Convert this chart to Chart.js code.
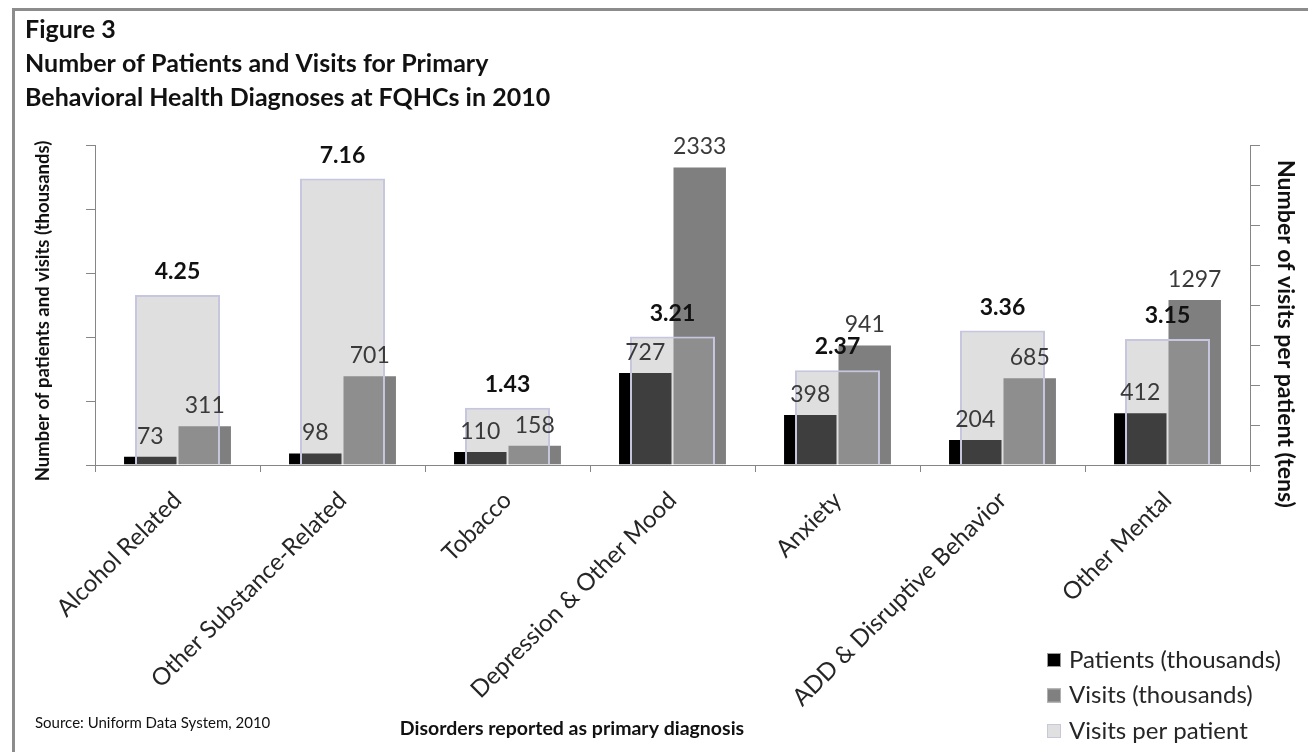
<!DOCTYPE html>
<html>
<head>
<meta charset="utf-8">
<script src="https://cdn.jsdelivr.net/npm/chart.js@4.4.1/dist/chart.umd.min.js"></script>
<style>
  html, body { margin: 0; padding: 0; background: #fff; }
  #wrap { width: 1308px; height: 752px; }
</style>
</head>
<body>
<div id="wrap"><canvas id="myChart" width="1308" height="752"></canvas></div>
<script>
var categories = ["Alcohol Related", "Other Substance-Related", "Tobacco", "Depression & Other Mood", "Anxiety", "ADD & Disruptive Behavior", "Other Mental"];
var patients = [73, 98, 110, 727, 398, 204, 412];
var visits = [311, 701, 158, 2333, 941, 685, 1297];
var visitsPerPatient = [4.25, 7.16, 1.43, 3.21, 2.37, 3.36, 3.15];
var seriesNames = ["Patients (thousands)", "Visits (thousands)", "Visits per patient"];
var leftMax = 2500, leftStep = 500;
var rightMax = 8, rightStep = 1;

var axisGray = "#868686";
var font = "Lato";
Chart.defaults.font.family = font;

// value labels above every bar
var barLabels = {
  id: "barLabels",
  afterDatasetsDraw: function (chart) {
    var ctx = chart.ctx;
    ctx.save();
    ctx.textAlign = "center";
    ctx.textBaseline = "bottom";
    chart.data.datasets.forEach(function (ds, i) {
      var meta = chart.getDatasetMeta(i);
      meta.data.forEach(function (bar, j) {
        var v = ds.data[j];
        if (ds.yAxisID === "y1") {
          ctx.font = "bold 23px " + font;
          ctx.fillStyle = "#111";
          ctx.fillText(v.toFixed(2), bar.x, bar.y - 12);
        } else {
          ctx.font = "23px " + font;
          ctx.fillStyle = "#3a3a3a";
          ctx.fillText(String(v), bar.x, bar.y - 8);
        }
      });
    });
    ctx.restore();
  }
};

// titles, axis titles, source note, legend and frame
var decorations = {
  id: "decorations",
  beforeDraw: function (chart) {
    var ctx = chart.ctx;
    ctx.save();
    ctx.strokeStyle = "#8c8c8c";
    ctx.lineWidth = 3;
    ctx.strokeRect(13.5, 9.5, 1400, 900);
    ctx.restore();
  },
  afterDraw: function (chart) {
    var ctx = chart.ctx;
    ctx.save();
    ctx.fillStyle = "#111";
    ctx.textBaseline = "middle";
    ctx.textAlign = "left";
    ctx.font = "bold 25px " + font;
    ctx.fillText("Figure 3", 25, 30);
    ctx.fillText("Number of Patients and Visits for Primary", 25, 64);
    ctx.fillText("Behavioral Health Diagnoses at FQHCs in 2010", 25, 98);

    ctx.font = "15px " + font;
    ctx.fillText("Source: Uniform Data System, 2010", 35, 723);

    ctx.textAlign = "center";
    ctx.font = "bold 19.5px " + font;
    ctx.fillText("Disorders reported as primary diagnosis", 572, 729);

    ctx.save();
    ctx.translate(43, 311);
    ctx.rotate(-Math.PI / 2);
    ctx.font = "bold 18.5px " + font;
    ctx.fillText("Number of patients and visits (thousands)", 0, 0);
    ctx.restore();

    ctx.save();
    ctx.translate(1285, 334);
    ctx.rotate(Math.PI / 2);
    ctx.font = "bold 23px " + font;
    ctx.fillText("Number of visits per patient (tens)", 0, 0);
    ctx.restore();

    // legend
    var fills = ["#000000", "#808080", "#e0e0e0"];
    var edges = ["#9a9a9a", "#b0b0b0", "#c8c8dc"];
    ctx.textAlign = "left";
    ctx.font = "24px " + font;
    seriesNames.forEach(function (name, i) {
      var y = 660 + i * 35.5;
      ctx.fillStyle = fills[i];
      ctx.fillRect(1047, y - 7, 14, 14);
      ctx.strokeStyle = edges[i];
      ctx.lineWidth = 1;
      ctx.strokeRect(1047.5, y - 6.5, 13, 13);
      ctx.fillStyle = "#262626";
      ctx.fillText(name, 1069, y);
    });
    ctx.restore();
  }
};

new Chart("myChart", {
  type: "bar",
  data: {
    labels: categories,
    datasets: [{
      label: seriesNames[0],
      data: patients,
      yAxisID: "y",
      backgroundColor: "#000000",
      borderColor: "rgba(255,255,255,0.75)",
      borderWidth: 1,
      categoryPercentage: 0.66,
      barPercentage: 1.0,
      order: 1
    }, {
      label: seriesNames[1],
      data: visits,
      yAxisID: "y",
      backgroundColor: "#7f7f7f",
      borderColor: "rgba(255,255,255,0.75)",
      borderWidth: 1,
      categoryPercentage: 0.66,
      barPercentage: 1.0,
      order: 1
    }, {
      label: seriesNames[2],
      data: visitsPerPatient,
      yAxisID: "y1",
      grouped: false,
      backgroundColor: "rgba(168,168,172,0.37)",
      borderColor: "#c6c6de",
      borderWidth: 2,
      categoryPercentage: 1.0,
      barPercentage: 0.515,
      order: 0
    }]
  },
  options: {
    responsive: false,
    animation: false,
    layout: { padding: { top: 145, left: 0, right: 0, bottom: 0 } },
    plugins: {
      legend: { display: false },
      tooltip: { enabled: false },
      title: { display: false }
    },
    scales: {
      x: {
        grid: { drawOnChartArea: false, drawTicks: true, tickLength: 7, color: axisGray, offset: true },
        border: { color: axisGray, width: 1 },
        ticks: {
          autoSkip: false,
          maxRotation: 45,
          minRotation: 45,
          padding: 14,
          color: "#262626",
          font: { size: 24 }
        },
        afterFit: function (scale) { scale.height = 752 - 145 - 320; }
      },
      y: {
        position: "left",
        min: 0,
        max: leftMax,
        ticks: { stepSize: leftStep, display: false },
        grid: { drawOnChartArea: false, drawTicks: true, tickLength: 9, color: axisGray },
        border: { color: axisGray, width: 1 },
        afterFit: function (scale) { scale.width = 95; }
      },
      y1: {
        position: "right",
        min: 0,
        max: rightMax,
        ticks: { stepSize: rightStep, display: false },
        grid: { drawOnChartArea: false, drawTicks: true, tickLength: 10, color: axisGray },
        border: { color: axisGray, width: 1 },
        afterFit: function (scale) { scale.width = 1308 - 1250; }
      }
    }
  },
  plugins: [barLabels, decorations]
});
</script>
</body>
</html>
